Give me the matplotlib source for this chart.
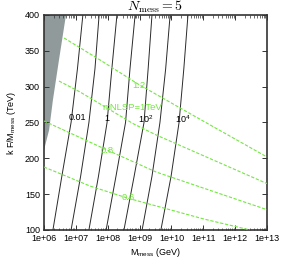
import numpy as np
import matplotlib
matplotlib.use('Agg')
import matplotlib.pyplot as plt
from matplotlib import ticker

plt.rcParams['font.family'] = ['Liberation Sans', 'DejaVu Sans']
plt.rcParams['mathtext.fontset'] = 'custom'
plt.rcParams['mathtext.rm'] = 'Liberation Sans'
plt.rcParams['mathtext.it'] = 'Liberation Sans:italic'

# y grid (k F / M_mess in TeV) at which the black contours were read
kf_black = [100, 175, 250, 325, 400]
# log10(M_mess / GeV) of each black contour at those y values
black_logm = [
    [6.28, 6.56, 6.85, 7.05, 7.22],
    [6.85, 7.15, 7.41, 7.60, 7.73],
    [7.41, 7.71, 7.98, 8.13, 8.29],
    [7.95, 8.26, 8.56, 8.70, 8.86],
    [8.51, 8.83, 9.14, 9.27, 9.39],
    [9.08, 9.39, 9.64, 9.82, 9.96],
    [9.67, 9.99, 10.24, 10.39, 10.52],
]
black_labels = ['0.01', '1', r'$10^2$', r'$10^4$']
black_label_pos = [(7.05, 257), (7.98, 256), (9.19, 254), (10.36, 254)]

# green dashed contours (mNLSP in TeV): (log10 M, kF) points
green_lines = {
    '1.2': ([6.63, 7.76, 8.95, 10.11, 11.27, 13.0],
            [367.9, 337.2, 303.7, 274.4, 245.2, 201.9]),
    'mNLSP=1TeV': ([6.47, 7.13, 8.82, 9.52, 13.03],
                   [307.9, 292.6, 247.9, 232.6, 164.2]),
    '0.8': ([6.0, 7.98, 9.52, 13.03],
            [252.1, 211.6, 180.9, 127.9]),
    '0.6': ([6.0, 7.44, 8.61, 9.64, 11.02, 12.47],
            [187.9, 161.4, 144.7, 132.1, 115.3, 100.0]),
}
green_label_pos = {'1.2': (8.98, 301), 'mNLSP=1TeV': (8.78, 271),
                   '0.8': (7.98, 211.6), '0.6': (8.64, 144.7)}

# excluded (grey) region, right edge
grey_edge_logm = [6.69, 6.47, 6.28, 6.16, 6.0]
grey_edge_kf = [400, 337.2, 281.4, 239.5, 211.6]

xtick_exp = [6, 7, 8, 9, 10, 11, 12, 13]
xtick_labels = ['1e+%02d' % e for e in xtick_exp]

fig = plt.figure(figsize=(2.81, 2.63), dpi=100)
ax = fig.add_axes([0.1566, 0.1255, 0.7934, 0.8175])

# grey region
px = [6.0] + grey_edge_logm
py = [400] + grey_edge_kf
ax.fill(10 ** np.array(px), py, color='#919a9a', lw=0, zorder=1)

for lm in black_logm:
    ax.plot(10 ** np.array(lm), kf_black, color='#2a2a2a', lw=0.7, zorder=2)

for name, (lm, kf) in green_lines.items():
    ax.plot(10 ** np.array(lm), kf, color='#72e83e', lw=0.8,
            dashes=(3, 1.5), zorder=3)
    gx, gy = green_label_pos[name]
    ax.text(10 ** gx, gy, name, color='#72e83e',
            fontsize=6.8, ha='center', va='center', zorder=4)

for lab, (lx, ly) in zip(black_labels, black_label_pos):
    ax.text(10 ** lx, ly, lab, color='black', fontsize=6.5,
            ha='center', va='center', zorder=4)

ax.set_xscale('log')
ax.set_xlim(1e6, 1e13)
ax.set_ylim(100, 400)
ax.set_xticks([10.0 ** e for e in xtick_exp])
ax.set_xticklabels(xtick_labels)
ax.xaxis.set_minor_locator(ticker.LogLocator(base=10, subs=np.arange(2, 10)))
ax.xaxis.set_minor_formatter(ticker.NullFormatter())
ax.set_yticks([100, 150, 200, 250, 300, 350, 400])

ax.tick_params(which='both', direction='in', top=True, right=True,
               labelsize=6.5, pad=3, color='#333333')
ax.tick_params(which='major', length=3.5, width=0.7)
ax.tick_params(which='minor', length=1.8, width=0.5)
for s in ax.spines.values():
    s.set_linewidth(1.2)
    s.set_color('#333333')

ax.set_xlabel(r'M$_{\rm mess}$ (GeV)', fontsize=6.5, labelpad=2)
ax.set_ylabel(r'k F/M$_{\rm mess}$ (TeV)', fontsize=6.5, labelpad=5)
ax.set_title(r'$N_{\rm mess} = 5$', fontsize=10, math_fontfamily='cm', pad=2)

fig.savefig('out.png', dpi=100)
